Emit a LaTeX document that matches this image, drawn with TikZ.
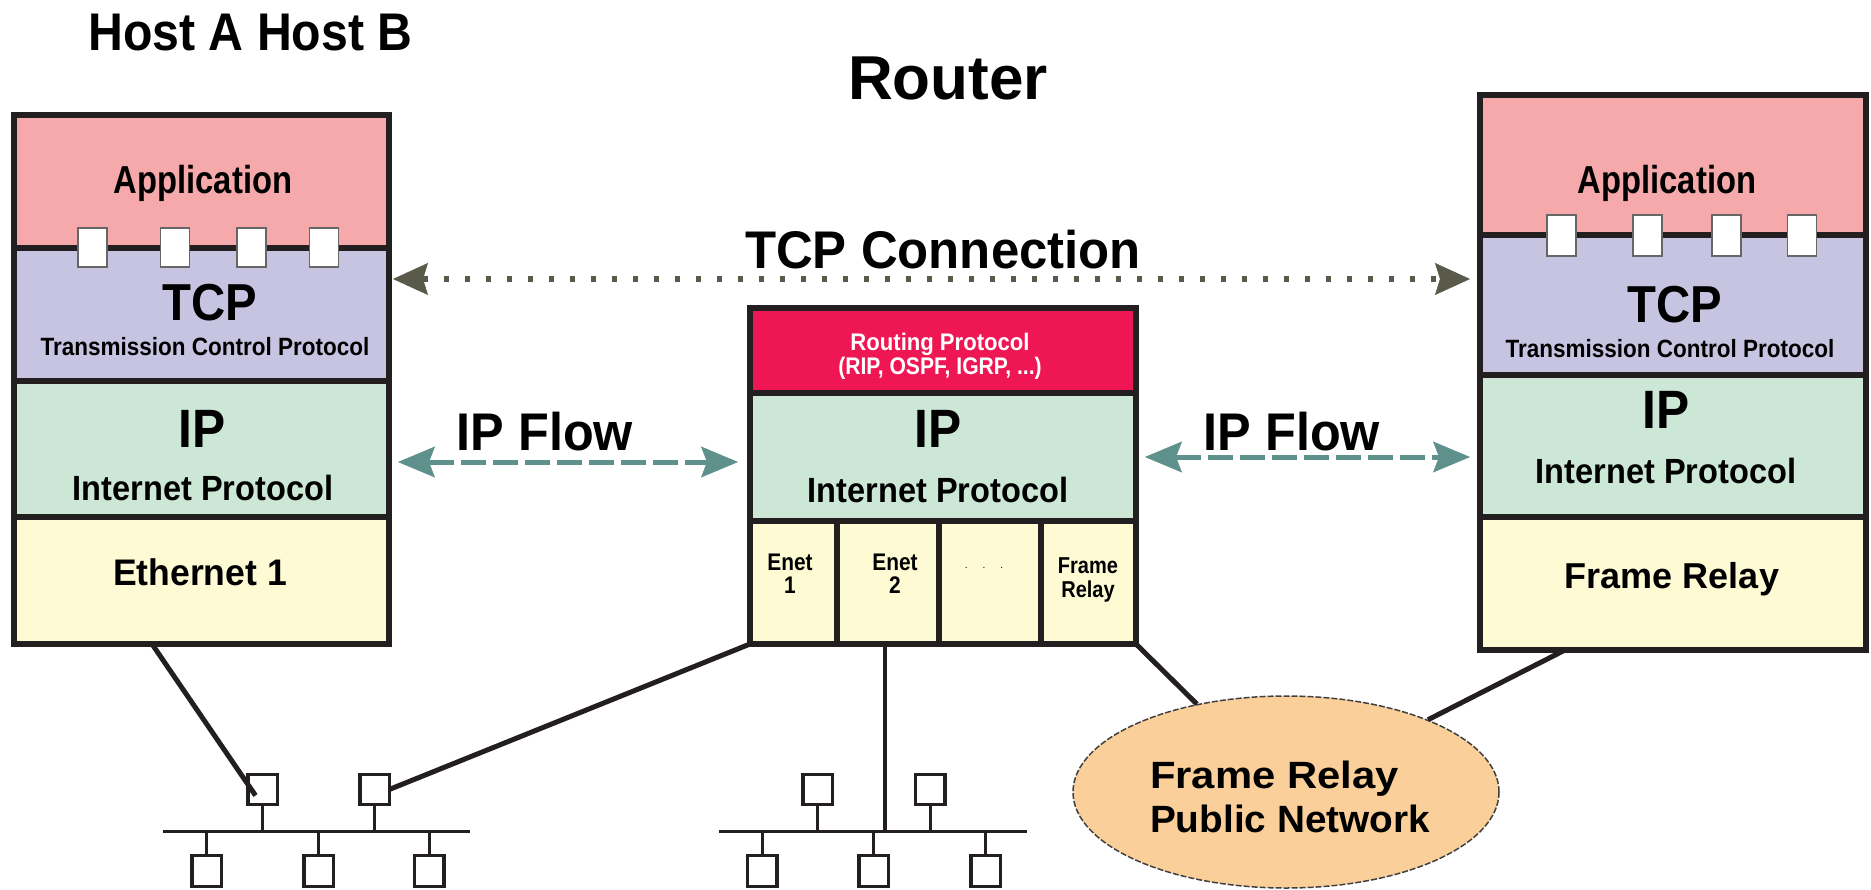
\documentclass[tikz,border=0pt]{standalone}
\usepackage{fontspec}
\setmainfont{Liberation Sans}
\usepackage{graphicx}
\usetikzlibrary{arrows.meta,shapes.geometric}
\definecolor{bd}{HTML}{231F20}
\definecolor{appc}{HTML}{F6A9AB}
\definecolor{tcpc}{HTML}{C7C4E1}
\definecolor{ipc}{HTML}{CDE7D7}
\definecolor{ethc}{HTML}{FEFAD3}
\definecolor{rpc}{HTML}{EE1753}
\definecolor{ellc}{HTML}{FBCF9A}
\definecolor{tcpcol}{HTML}{5A5A4B}
\definecolor{flowcol}{HTML}{5E918C}
\newcommand{\mytxt}[3]{\fontsize{#1}{#1}\selectfont\scalebox{#2}[1]{#3}}
\begin{document}
\begin{tikzpicture}[x=1pt,y=-1pt,
  layer/.style={draw=bd, line width=6pt, rectangle, inner sep=0pt, outer sep=0pt},
  port/.style={draw=black!60, line width=1.3pt, fill=white, rectangle, inner sep=0pt, outer sep=0pt, minimum width=29pt},
  netbox/.style={draw=bd, line width=3.5pt, fill=white, rectangle, inner sep=0pt, outer sep=0pt, minimum width=29.5pt, minimum height=30pt},
  lbl/.style={inner sep=0pt, outer sep=0pt, anchor=base, font=\bfseries},
  wire/.style={draw=bd, line width=5pt},
  bus/.style={draw=bd, line width=3pt},
  tcpconn/.style={draw=tcpcol, line width=5.3pt, dash pattern=on 5.3pt off 15.7pt,
    >={Stealth[length=35pt,width=32pt,inset=5pt,line width=0.5pt]}, <->},
  ipflow/.style={draw=flowcol, line width=5pt, dash pattern=on 25pt off 7pt,
    >={Stealth[length=37pt,width=31pt,inset=6pt,line width=0.5pt]}, <->}
]
\useasboundingbox (0,0) rectangle (1871,889);

% ---------- Left host ----------
\node[layer, fill=appc, minimum width=375pt, minimum height=133pt] (lapp) at (201.5,181.5) {};
\node[layer, fill=tcpc, minimum width=375pt, minimum height=133pt] (ltcp) at (201.5,314.5) {};
\node[layer, fill=ipc,  minimum width=375pt, minimum height=136pt] (lip)  at (201.5,449) {};
\node[layer, fill=ethc, minimum width=375pt, minimum height=127pt] (leth) at (201.5,580.5) {};
\node[port, minimum height=39pt] (lp1) at (92.5,247.5) {};
\node[port, minimum height=39pt] (lp2) at (175,247.5) {};
\node[port, minimum height=39pt] (lp3) at (251.5,247.5) {};
\node[port, minimum height=39pt] (lp4) at (324,247.5) {};

% ---------- Router ----------
\node[layer, fill=rpc, minimum width=386pt, minimum height=85pt]  (rrp) at (943,350.5) {};
\node[layer, fill=ipc, minimum width=386pt, minimum height=128pt] (rip) at (943,457) {};
\node[layer, fill=ethc, minimum width=87pt,  minimum height=123pt] (rp1) at (793.5,582.5) {};
\node[layer, fill=ethc, minimum width=102pt, minimum height=123pt] (rp2) at (888,582.5) {};
\node[layer, fill=ethc, minimum width=102pt, minimum height=123pt] (rp3) at (990,582.5) {};
\node[layer, fill=ethc, minimum width=95pt,  minimum height=123pt] (rp4) at (1088.5,582.5) {};

% ---------- Right host ----------
\node[layer, fill=appc, minimum width=386pt, minimum height=140pt] (rapp) at (1673,165) {};
\node[layer, fill=tcpc, minimum width=386pt, minimum height=140pt] (rtcp) at (1673,305) {};
\node[layer, fill=ipc,  minimum width=386pt, minimum height=142pt] (rhip) at (1673,446) {};
\node[layer, fill=ethc, minimum width=386pt, minimum height=133pt] (rfr)  at (1673,583.5) {};
\node[port, minimum height=41pt] (rq1) at (1561.5,235.5) {};
\node[port, minimum height=41pt] (rq2) at (1647.5,235.5) {};
\node[port, minimum height=41pt] (rq3) at (1726.5,235.5) {};
\node[port, minimum height=41pt] (rq4) at (1802,235.5) {};

% ---------- Frame relay cloud ----------
\node[ellipse, draw=black!75, line width=1.5pt, dash pattern=on 6pt off 2pt, fill=ellc,
      minimum width=426pt, minimum height=192pt, inner sep=0pt] (frnet) at (1286,792) {};

% ---------- Left LAN ----------
\coordinate (busL1) at (163,831);
\coordinate (busL2) at (470,831);
\draw[bus] (busL1) -- (busL2);
\node[netbox] (sq1) at (262.5,789.5) {};
\node[netbox] (sq2) at (374.5,789.5) {};
\node[netbox, minimum height=31pt] (sq3) at (206.5,871) {};
\node[netbox, minimum height=31pt] (sq4) at (318.5,871) {};
\node[netbox, minimum height=31pt] (sq5) at (429,871) {};
\foreach \s in {sq1,sq2} \draw[bus] (\s.south) -- (\s.south |- busL1);
\foreach \s in {sq3,sq4,sq5} \draw[bus] (\s.north) -- (\s.north |- busL1);

% ---------- Middle LAN ----------
\coordinate (busM1) at (719,831);
\coordinate (busM2) at (1027,831);
\draw[bus] (busM1) -- (busM2);
\node[netbox] (sm1) at (817.5,789.5) {};
\node[netbox] (sm2) at (930,789.5) {};
\node[netbox, minimum height=31pt] (sm3) at (762,871) {};
\node[netbox, minimum height=31pt] (sm4) at (873.5,871) {};
\node[netbox, minimum height=31pt] (sm5) at (985.5,871) {};
\foreach \s in {sm1,sm2} \draw[bus] (\s.south) -- (\s.south |- busM1);
\foreach \s in {sm3,sm4,sm5} \draw[bus] (\s.north) -- (\s.north |- busM1);

% ---------- Wires ----------
\draw[wire] ([xshift=138pt]leth.south west) -- ([xshift=-7pt,yshift=-6pt]sq1.center);
\draw[wire] (sq2.east) -- (rp1.south west);
\draw[bus, line width=3.5pt] ([xshift=-3pt]rp2.south) -- ([xshift=-3pt]rp2.south |- busM1);
\draw[wire] (rp4.south east) -- (frnet);
\draw[wire] ([xshift=85pt]rfr.south west) -- (frnet);

% ---------- Flow arrows ----------
\coordinate (tcpL) at (393,279);
\coordinate (tcpR) at (1470,279);
\draw[tcpconn] (tcpL) -- (tcpR);
\coordinate (f1L) at (398,462);
\coordinate (f1R) at (738,462);
\draw[ipflow] (f1L) -- (f1R);
\coordinate (f2L) at (1145,457);
\coordinate (f2R) at (1470,457);
\draw[ipflow] (f2L) -- (f2R);

% ---------- Texts ----------
\node[lbl] (tHost) at (250.5,50) {\mytxt{53}{0.91}{Host A Host B}};
\node[lbl] (tRouter) at (948,99) {\mytxt{62}{1}{Router}};
\node[lbl] (tTcpConn) at (943,268) {\mytxt{53}{0.96}{TCP Connection}};
\node[lbl] (tFlow1) at (545,450) {\mytxt{53}{0.95}{IP Flow}};
\node[lbl] (tFlow2) at (1292,450) {\mytxt{53}{0.95}{IP Flow}};

\node[lbl] (lAppT) at (203,193) {\mytxt{39}{0.84}{Application}};
\node[lbl] (lTcpT) at (210,320) {\mytxt{52}{0.91}{TCP}};
\node[lbl] (lTcpS) at (205,355) {\mytxt{25}{0.90}{Transmission Control Protocol}};
\node[lbl] (lIpT) at (202,447) {\mytxt{54}{0.92}{IP}};
\node[lbl] (lIpS) at (203,500) {\mytxt{35}{0.93}{Internet Protocol}};
\node[lbl] (lEthT) at (200,585) {\mytxt{37}{0.96}{Ethernet 1}};

\node[lbl, text=white] (rRp1) at (940,350) {\mytxt{24}{0.92}{Routing Protocol}};
\node[lbl, text=white] (rRp2) at (940,374) {\mytxt{24}{0.88}{(RIP, OSPF, IGRP, ...)}};
\node[lbl] (rIpT) at (938,447) {\mytxt{54}{0.92}{IP}};
\node[lbl] (rIpS) at (938,502) {\mytxt{35}{0.93}{Internet Protocol}};
\node[lbl] (rE1a) at (790,570) {\mytxt{24}{0.87}{Enet}};
\node[lbl] (rE1b) at (790,593) {\mytxt{24}{0.87}{1}};
\node[lbl] (rE2a) at (895,570) {\mytxt{24}{0.87}{Enet}};
\node[lbl] (rE2b) at (895,593) {\mytxt{24}{0.87}{2}};
\node[lbl, font=\normalfont] (rDots) at (984,568) {\fontsize{10}{10}\selectfont .\hspace{15pt}.\hspace{15pt}.};
\node[lbl] (rF1) at (1088,573) {\mytxt{23}{0.87}{Frame}};
\node[lbl] (rF2) at (1088,597) {\mytxt{23}{0.87}{Relay}};

\node[lbl] (hAppT) at (1667,193) {\mytxt{39}{0.84}{Application}};
\node[lbl] (hTcpT) at (1675,322) {\mytxt{52}{0.91}{TCP}};
\node[lbl] (hTcpS) at (1670,357) {\mytxt{25}{0.90}{Transmission Control Protocol}};
\node[lbl] (hIpT) at (1666,428) {\mytxt{54}{0.92}{IP}};
\node[lbl] (hIpS) at (1666,483) {\mytxt{35}{0.93}{Internet Protocol}};
\node[lbl] (hFrT) at (1672,588) {\mytxt{36}{1}{Frame Relay}};

\node[lbl, anchor=base west] (nFr1) at (1150,788) {\mytxt{38}{1.1}{Frame Relay}};
\node[lbl, anchor=base west] (nFr2) at (1150,832) {\mytxt{38}{1.02}{Public Network}};
\end{tikzpicture}
\end{document}
